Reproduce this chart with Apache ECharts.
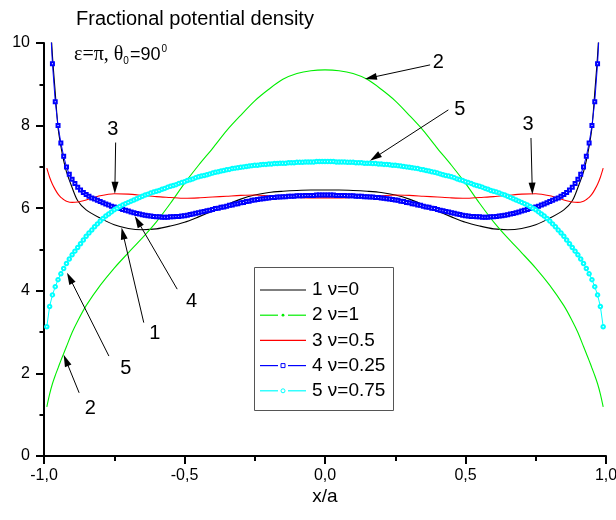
<!DOCTYPE html>
<html><head><meta charset="utf-8">
<script src="https://cdn.jsdelivr.net/npm/echarts@6/dist/echarts.min.js"></script>
<style>html,body{margin:0;padding:0;background:#fff}#c{width:616px;height:520px}</style>
</head><body><div id="c"></div>
<script>
// sample positions (x/a) for the marker curves, step 0.01
const xFine = [
-0.99,-0.98,-0.97,-0.96,-0.95,-0.94,-0.93,-0.92,-0.91,-0.90,
-0.89,-0.88,-0.87,-0.86,-0.85,-0.84,-0.83,-0.82,-0.81,-0.80,
-0.79,-0.78,-0.77,-0.76,-0.75,-0.74,-0.73,-0.72,-0.71,-0.70,
-0.69,-0.68,-0.67,-0.66,-0.65,-0.64,-0.63,-0.62,-0.61,-0.60,
-0.59,-0.58,-0.57,-0.56,-0.55,-0.54,-0.53,-0.52,-0.51,-0.50,
-0.49,-0.48,-0.47,-0.46,-0.45,-0.44,-0.43,-0.42,-0.41,-0.40,
-0.39,-0.38,-0.37,-0.36,-0.35,-0.34,-0.33,-0.32,-0.31,-0.30,
-0.29,-0.28,-0.27,-0.26,-0.25,-0.24,-0.23,-0.22,-0.21,-0.20,
-0.19,-0.18,-0.17,-0.16,-0.15,-0.14,-0.13,-0.12,-0.11,-0.10,
-0.09,-0.08,-0.07,-0.06,-0.05,-0.04,-0.03,-0.02,-0.01,
0,
0.01,0.02,0.03,0.04,0.05,0.06,0.07,0.08,0.09,
0.10,0.11,0.12,0.13,0.14,0.15,0.16,0.17,0.18,0.19,
0.20,0.21,0.22,0.23,0.24,0.25,0.26,0.27,0.28,0.29,
0.30,0.31,0.32,0.33,0.34,0.35,0.36,0.37,0.38,0.39,
0.40,0.41,0.42,0.43,0.44,0.45,0.46,0.47,0.48,0.49,
0.50,0.51,0.52,0.53,0.54,0.55,0.56,0.57,0.58,0.59,
0.60,0.61,0.62,0.63,0.64,0.65,0.66,0.67,0.68,0.69,
0.70,0.71,0.72,0.73,0.74,0.75,0.76,0.77,0.78,0.79,
0.80,0.81,0.82,0.83,0.84,0.85,0.86,0.87,0.88,0.89,
0.90,0.91,0.92,0.93,0.94,0.95,0.96,0.97,0.98,0.99
];
// sample positions for the plain line curves
const lineX = [-0.99,-0.98,-0.97,-0.96,-0.95,-0.94,-0.93,-0.92,-0.90,-0.88,-0.85,-0.80,-0.75,-0.70,-0.65,-0.60,-0.55,-0.50,-0.45,-0.40,-0.35,-0.30,-0.25,-0.20,-0.15,-0.10,-0.05,0,
0.05,0.10,0.15,0.20,0.25,0.30,0.35,0.40,0.45,0.50,0.55,0.60,0.65,0.70,0.75,0.80,0.85,0.88,0.90,0.92,0.93,0.94,0.95,0.96,0.97,0.98,0.99];

// 1: nu = 0 (black)
const nu0 = [14.0,11.0,9.70,8.80,7.95,7.50,7.15,6.88,6.50,6.18,5.96,5.76,5.60,5.51,5.48,5.50,5.57,5.66,5.79,5.93,6.08,6.22,6.32,6.38,6.41,6.43,6.44,6.44,
6.44,6.43,6.41,6.38,6.32,6.22,6.08,5.93,5.79,5.66,5.57,5.50,5.48,5.51,5.60,5.76,5.96,6.18,6.50,6.88,7.15,7.50,7.95,8.80,9.70,11.0,14.0];
// 2: nu = 1 (green)
const nu1 = [1.19,1.50,1.75,1.95,2.13,2.31,2.48,2.65,2.99,3.27,3.64,4.13,4.55,4.92,5.28,5.67,6.12,6.60,7.04,7.45,7.88,8.25,8.60,8.88,9.12,9.26,9.33,9.35,
9.33,9.26,9.12,8.88,8.60,8.25,7.88,7.45,7.04,6.60,6.12,5.67,5.28,4.92,4.55,4.13,3.64,3.27,2.99,2.65,2.48,2.31,2.13,1.95,1.75,1.50,1.19];
// 3: nu = 0.5 (red)
const nu05 = [6.97,6.75,6.58,6.45,6.34,6.26,6.21,6.17,6.14,6.15,6.20,6.30,6.35,6.34,6.31,6.28,6.26,6.24,6.25,6.27,6.29,6.31,6.32,6.30,6.28,6.26,6.25,6.25,
6.25,6.26,6.28,6.30,6.32,6.31,6.29,6.27,6.25,6.24,6.26,6.28,6.31,6.34,6.35,6.30,6.20,6.15,6.14,6.17,6.21,6.26,6.34,6.45,6.58,6.75,6.97];
// 4: nu = 0.25 (blue squares), x from -0.98 to 0.98
const nu025 = [
10.80,9.50,8.58,8.00,7.58,7.26,7.00,6.82,6.70,
6.60,6.51,6.44,6.38,6.33,6.29,6.25,6.22,6.19,6.16,
6.13,6.10,6.08,6.05,6.03,6.01,5.99,5.97,5.95,5.93,
5.91,5.89,5.87,5.86,5.84,5.83,5.82,5.81,5.80,5.79,
5.79,5.78,5.78,5.78,5.79,5.79,5.80,5.80,5.81,5.82,
5.83,5.85,5.86,5.88,5.89,5.91,5.92,5.94,5.95,5.97,
5.99,6.00,6.02,6.03,6.05,6.07,6.08,6.10,6.11,6.13,
6.14,6.16,6.17,6.19,6.20,6.21,6.22,6.23,6.24,6.25,
6.26,6.26,6.27,6.27,6.28,6.28,6.29,6.29,6.29,6.30,
6.30,6.30,6.31,6.31,6.31,6.31,6.32,6.32,6.32,
6.32,
6.32,6.32,6.32,6.31,6.31,6.31,6.31,6.30,6.30,
6.30,6.29,6.29,6.29,6.28,6.28,6.27,6.27,6.26,6.26,
6.25,6.24,6.23,6.22,6.21,6.20,6.19,6.17,6.16,6.14,
6.13,6.11,6.10,6.08,6.07,6.05,6.03,6.02,6.00,5.99,
5.97,5.95,5.94,5.92,5.91,5.89,5.88,5.86,5.85,5.83,
5.82,5.81,5.80,5.80,5.79,5.79,5.78,5.78,5.78,5.79,
5.79,5.80,5.81,5.82,5.83,5.84,5.86,5.87,5.89,5.91,
5.93,5.95,5.97,5.99,6.01,6.03,6.05,6.08,6.10,6.13,
6.16,6.19,6.22,6.25,6.29,6.33,6.38,6.44,6.51,6.60,
6.70,6.82,7.00,7.26,7.58,8.00,8.58,9.50,10.80
];
// 5: nu = 0.75 (cyan circles), x from -0.99 to 0.99
const nu075 = [
3.13,3.62,3.90,4.10,4.27,4.41,4.54,4.66,4.77,4.87,
4.96,5.05,5.14,5.23,5.32,5.40,5.47,5.55,5.62,5.69,
5.75,5.81,5.86,5.91,5.96,6.00,6.04,6.08,6.11,6.14,
6.17,6.20,6.23,6.26,6.29,6.32,6.34,6.37,6.39,6.41,
6.43,6.46,6.48,6.51,6.53,6.55,6.57,6.60,6.62,6.64,
6.67,6.69,6.71,6.74,6.76,6.78,6.79,6.81,6.83,6.85,
6.87,6.88,6.90,6.91,6.93,6.94,6.96,6.97,6.98,6.99,
7.00,7.01,7.02,7.03,7.04,7.04,7.05,7.06,7.06,7.07,
7.07,7.08,7.08,7.09,7.09,7.09,7.10,7.10,7.10,7.11,
7.11,7.11,7.12,7.12,7.12,7.12,7.13,7.13,7.13,
7.13,
7.13,7.13,7.13,7.12,7.12,7.12,7.12,7.11,7.11,
7.11,7.10,7.10,7.10,7.09,7.09,7.09,7.08,7.08,7.07,
7.07,7.06,7.06,7.05,7.04,7.04,7.03,7.02,7.01,7.00,
6.99,6.98,6.97,6.96,6.94,6.93,6.91,6.90,6.88,6.87,
6.85,6.83,6.81,6.79,6.78,6.76,6.74,6.71,6.69,6.67,
6.64,6.62,6.60,6.57,6.55,6.53,6.51,6.48,6.46,6.43,
6.41,6.39,6.37,6.34,6.32,6.29,6.26,6.23,6.20,6.17,
6.14,6.11,6.08,6.04,6.00,5.96,5.91,5.86,5.81,5.75,
5.69,5.62,5.55,5.47,5.40,5.32,5.23,5.14,5.05,4.96,
4.87,4.77,4.66,4.54,4.41,4.27,4.10,3.90,3.62,3.13
];
const seriesNames = ['1 ν=0','2 ν=1','3 ν=0.5','4 ν=0.25','5 ν=0.75'];
const seriesColors = ['#000000','#00ee00','#ff0000','#0000ff','#00ffff'];
const legendMarks = ['none','dot','none','square','circle'];
// curve labels with arrows (data coordinates): label position, arrow tail, arrow tip
const notes = [
  {t:'3', label:[-0.755,7.90], tail:[-0.745,7.59], tip:[-0.748,6.35]},
  {t:'3', label:[0.723,8.02], tail:[0.733,7.70], tip:[0.738,6.33]},
  {t:'2', label:[0.403,9.52], tail:[0.374,9.47], tip:[0.142,9.13]},
  {t:'5', label:[0.480,8.38], tail:[0.439,8.38], tip:[0.160,7.15]},
  {t:'4', label:[-0.475,3.74], tail:[-0.526,4.04], tip:[-0.677,5.81]},
  {t:'1', label:[-0.606,2.96], tail:[-0.645,3.23], tip:[-0.724,5.53]},
  {t:'5', label:[-0.709,2.11], tail:[-0.769,2.42], tip:[-0.918,4.44]},
  {t:'2', label:[-0.835,1.14], tail:[-0.875,1.53], tip:[-0.930,2.45]}
];

const F = 'Liberation Sans';
function pairs(xs, ys){ return ys.map((y,i)=>[xs[i], y]); }

const chart = echarts.init(document.getElementById('c'), null, {renderer:'canvas'});
const axisCommon = {
  axisLine:{show:true, onZero:false, lineStyle:{color:'#000', width:2}},
  splitLine:{show:false}, minorSplitLine:{show:false}
};
const option = {
  animation:false,
  backgroundColor:'#fff',
  grid:{left:44, right:10, top:43, bottom:64, containLabel:false, outerBoundsMode:'none'},
  xAxis:Object.assign({type:'value', min:-1, max:1, interval:0.5,
    axisTick:{show:true, length:8, lineStyle:{color:'#000', width:2}},
    minorTick:{show:true, splitNumber:2, length:5, lineStyle:{color:'#000', width:2}},
    axisLabel:{show:true, showMinLabel:true, showMaxLabel:true, hideOverlap:false, margin:12, fontSize:16, color:'#000', fontFamily:F,
      formatter:v=>v.toFixed(1).replace('.',',')}}, axisCommon),
  yAxis:Object.assign({type:'value', min:0, max:10, interval:2,
    axisTick:{show:true, length:8, lineStyle:{color:'#000', width:2}},
    minorTick:{show:true, splitNumber:2, length:4.5, lineStyle:{color:'#000', width:2}},
    axisLabel:{show:true, showMinLabel:true, showMaxLabel:true, margin:14, fontSize:16, color:'#000', fontFamily:F}}, axisCommon),
  series:[
    {name:seriesNames[0], type:'line', data:pairs(lineX, nu0), symbol:'none', smooth:0.3, clip:true, z:2,
      lineStyle:{color:seriesColors[0], width:1.1}},
    {name:seriesNames[1], type:'line', data:pairs(lineX, nu1), symbol:'none', smooth:0.3, clip:true, z:3,
      lineStyle:{color:seriesColors[1], width:1.1}},
    {name:seriesNames[2], type:'line', data:pairs(lineX, nu05), symbol:'none', smooth:0.3, clip:true, z:4,
      lineStyle:{color:seriesColors[2], width:1.1}},
    {name:seriesNames[3], type:'line', data:pairs(xFine.slice(1,-1), nu025), symbol:'emptyRect', symbolSize:3, showAllSymbol:true, clip:true, z:5,
      lineStyle:{color:seriesColors[3], width:1}, itemStyle:{color:seriesColors[3], borderColor:seriesColors[3], borderWidth:1}},
    {name:seriesNames[4], type:'line', data:pairs(xFine, nu075), symbol:'emptyCircle', symbolSize:3.5, showAllSymbol:true, clip:true, z:6,
      lineStyle:{color:seriesColors[4], width:1}, itemStyle:{color:seriesColors[4], borderColor:seriesColors[4], borderWidth:1}}
  ]
};
chart.setOption(option);

// annotations, titles and legend box
const g = [];
g.push({type:'text', left:76, top:9, style:{text:'Fractional potential density', fontSize:20, fontFamily:F, fill:'#000'}});
g.push({type:'text', x:74, y:55, style:{
  text:'{g|ε=π, θ}{s|0}{n|=90}{p|0}', fontFamily:F, fill:'#000', verticalAlign:'middle',
  rich:{
    g:{fontFamily:'Liberation Serif', fontSize:20, verticalAlign:'middle', fill:'#000'},
    s:{fontFamily:F, fontSize:10, verticalAlign:'middle', padding:[12,1,0,0], fill:'#000'},
    n:{fontFamily:F, fontSize:18, verticalAlign:'middle', fill:'#000'},
    p:{fontFamily:F, fontSize:10, verticalAlign:'middle', padding:[0,0,12,1], fill:'#000'}
  }}});
g.push({type:'text', x:325, y:497, style:{text:'x/a', fontSize:19, fontFamily:F, fill:'#000', align:'center', verticalAlign:'middle'}});

// legend
g.push({type:'rect', shape:{x:254.5, y:267.5, width:139, height:143}, style:{fill:'#fff', stroke:'#555', lineWidth:1}, z:50});
seriesNames.forEach((name,i)=>{
  const y = 290 + i*25.2, c = seriesColors[i], m = legendMarks[i];
  if (m === 'none') {
    g.push({type:'line', shape:{x1:260, y1:y, x2:306, y2:y}, style:{stroke:c, lineWidth:1.2}, z:51});
  } else {
    g.push({type:'line', shape:{x1:260, y1:y, x2:278, y2:y}, style:{stroke:c, lineWidth:1.2}, z:51});
    g.push({type:'line', shape:{x1:288, y1:y, x2:306, y2:y}, style:{stroke:c, lineWidth:1.2}, z:51});
    if (m === 'dot') g.push({type:'circle', shape:{cx:283, cy:y, r:1.4}, style:{fill:c}, z:51});
    if (m === 'square') g.push({type:'rect', shape:{x:281, y:y-2, width:4, height:4}, style:{fill:'#fff', stroke:c, lineWidth:1}, z:51});
    if (m === 'circle') g.push({type:'circle', shape:{cx:283, cy:y, r:2}, style:{fill:'#fff', stroke:c, lineWidth:1}, z:51});
  }
  g.push({type:'text', x:312, y:y, style:{text:name, fontSize:19, fontFamily:F, fill:'#000', verticalAlign:'middle'}, z:51});
});

notes.forEach(n=>{
  const L = chart.convertToPixel({gridIndex:0}, n.label);
  const A = chart.convertToPixel({gridIndex:0}, n.tail);
  const B = chart.convertToPixel({gridIndex:0}, n.tip);
  const dx = B[0]-A[0], dy = B[1]-A[1], len = Math.hypot(dx,dy);
  const ux = dx/len, uy = dy/len, hl = 12, hw = 3.5;
  const bx = B[0]-ux*hl, by = B[1]-uy*hl;
  g.push({type:'line', shape:{x1:A[0], y1:A[1], x2:bx+ux*2, y2:by+uy*2}, style:{stroke:'#000', lineWidth:1}, z:100});
  g.push({type:'polygon', shape:{points:[[B[0],B[1]],[bx-uy*hw, by+ux*hw],[bx+uy*hw, by-ux*hw]]}, style:{fill:'#000'}, z:100});
  g.push({type:'text', x:L[0], y:L[1], style:{text:n.t, fontSize:20, fontFamily:F, fill:'#000', align:'center', verticalAlign:'middle'}, z:100});
});
chart.setOption({graphic:g});
</script>
</body></html>
